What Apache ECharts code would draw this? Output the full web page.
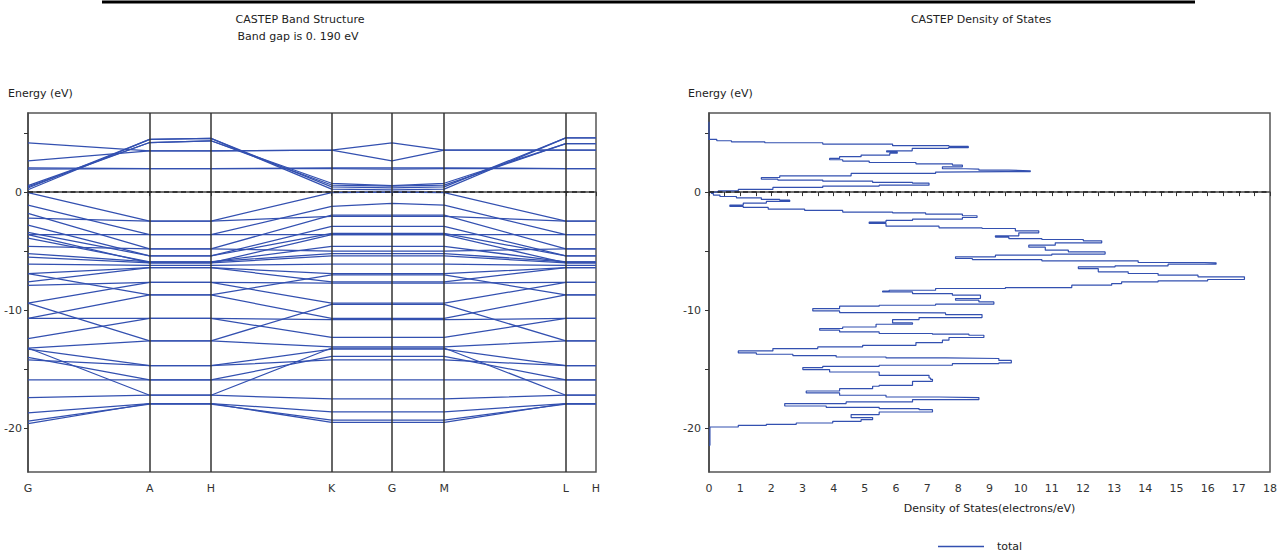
<!DOCTYPE html>
<html><head><meta charset="utf-8">
<script src="https://cdn.jsdelivr.net/npm/echarts@6/dist/echarts.min.js"></script>
<style>html,body{margin:0;padding:0;background:#fff}#c{width:1280px;height:558px}</style>
</head><body><div id="c"></div><script>
// k-path (high-symmetry points) and their path positions
const kLabels = ['G','A','H','K','G','M','L','H'];
const kPositions = [0,121,182,302,362,414,535,565];
// band energies (eV) at G, A, H, K, G, M, L, H
const conductionBands = [
  [0.20,4.47,4.55,0.25,0.19,0.25,4.60,4.60],
  [0.35,4.47,4.55,0.45,0.35,0.45,4.60,4.60],
  [0.45,4.20,4.35,0.60,0.50,0.60,4.10,4.10],
  [0.55,4.20,4.35,0.75,0.55,0.75,4.10,4.10],
  [4.18,3.50,3.50,3.55,4.18,3.55,3.55,3.55],
  [2.65,3.50,3.50,3.55,2.65,3.55,3.55,3.55],
  [1.95,2.00,2.00,2.00,1.95,2.00,2.00,2.00],
  [2.05,2.00,2.00,2.05,2.05,2.05,2.00,2.00]
];
const valenceBands = [
  [-0.05,-2.45,-2.45,-0.05,0.00,-0.05,-2.45,-2.45],
  [-1.10,-3.60,-3.60,-1.20,-0.95,-1.10,-3.60,-3.60],
  [-1.80,-4.80,-4.80,-1.95,-1.95,-1.95,-4.80,-4.80],
  [-2.20,-2.45,-2.45,-2.05,-2.05,-2.05,-2.45,-2.45],
  [-2.80,-5.40,-5.40,-2.90,-2.90,-2.90,-5.40,-5.40],
  [-3.40,-5.40,-5.40,-3.50,-3.50,-3.50,-5.40,-5.40],
  [-3.60,-3.60,-3.60,-3.60,-3.60,-3.60,-3.60,-3.60],
  [-3.90,-5.90,-5.90,-4.60,-4.60,-4.60,-5.90,-5.90],
  [-4.60,-4.80,-4.80,-5.00,-5.00,-5.00,-4.80,-4.80],
  [-5.20,-5.90,-5.90,-5.20,-5.20,-5.20,-5.90,-5.90],
  [-3.60,-6.00,-6.00,-3.60,-3.60,-3.60,-6.00,-6.00],
  [-5.50,-6.00,-6.00,-5.40,-5.40,-5.40,-6.00,-6.00],
  [-6.90,-6.40,-6.40,-6.90,-6.90,-6.90,-6.40,-6.40],
  [-7.60,-6.40,-6.40,-7.60,-7.60,-7.60,-6.40,-6.40],
  [-7.90,-7.65,-7.65,-7.70,-7.70,-7.70,-7.65,-7.65],
  [-9.40,-7.65,-7.65,-9.40,-9.40,-9.40,-7.65,-7.65],
  [-6.90,-8.70,-8.70,-7.00,-7.00,-7.00,-8.70,-8.70],
  [-10.70,-8.70,-8.70,-10.70,-10.70,-10.70,-8.70,-8.70],
  [-10.70,-10.70,-10.70,-10.80,-10.80,-10.80,-10.70,-10.70],
  [-12.40,-10.70,-10.70,-12.30,-12.30,-12.30,-10.70,-10.70],
  [-9.40,-12.60,-12.60,-9.50,-9.50,-9.50,-12.60,-12.60],
  [-13.20,-12.60,-12.60,-13.10,-13.10,-13.10,-12.60,-12.60],
  [-13.30,-14.70,-14.70,-13.30,-13.30,-13.30,-14.70,-14.70],
  [-14.20,-14.70,-14.70,-14.20,-14.20,-14.20,-14.70,-14.70],
  [-14.00,-15.90,-15.90,-13.90,-13.90,-13.90,-15.90,-15.90],
  [-15.90,-15.90,-15.90,-15.90,-15.90,-15.90,-15.90,-15.90],
  [-13.20,-17.20,-17.20,-13.20,-13.20,-13.20,-17.20,-17.20],
  [-17.40,-17.20,-17.20,-17.50,-17.50,-17.50,-17.20,-17.20],
  [-18.70,-17.90,-17.90,-18.60,-18.60,-18.60,-17.90,-17.90],
  [-19.60,-17.90,-17.90,-19.50,-19.50,-19.50,-17.90,-17.90],
  [-19.40,-17.95,-17.95,-19.30,-19.30,-19.30,-17.95,-17.95],
  [-6.10,-6.20,-6.20,-6.10,-6.10,-6.10,-6.20,-6.20]
];
// energy axis ticks
const energyTicks = [5,0,-5,-10,-15,-20];
const energyTickLabels = [0,-10,-20];
// total density of states (electrons/eV) vs energy (eV)
const dosEnergy = [5.96,4.69,4.46,4.35,4.26,4.18,4.07,3.93,3.87,3.76,3.70,3.50,3.40,3.30,3.14,3.00,2.85,2.74,2.63,2.51,2.40,2.29,2.14,1.98,1.95,1.86,1.81,1.74,1.70,1.58,1.38,1.24,1.10,1.02,0.93,0.82,0.76,0.59,0.51,0.40,0.23,0.11,0.00,-0.11,-0.25,-0.37,-0.48,-0.62,-0.68,-0.79,-0.93,-1.10,-1.21,-1.30,-1.44,-1.55,-1.69,-1.75,-1.86,-2.00,-2.15,-2.29,-2.40,-2.54,-2.65,-2.88,-3.02,-3.08,-3.28,-3.45,-3.70,-3.81,-3.93,-4.01,-4.12,-4.29,-4.49,-4.66,-4.92,-5.06,-5.25,-5.34,-5.48,-5.62,-5.71,-5.82,-5.96,-5.99,-6.10,-6.24,-6.33,-6.47,-6.75,-6.89,-7.03,-7.17,-7.40,-7.51,-7.60,-7.74,-7.88,-8.08,-8.16,-8.31,-8.39,-8.45,-8.59,-8.73,-9.01,-9.15,-9.30,-9.49,-9.58,-9.66,-9.86,-10.06,-10.20,-10.23,-10.37,-10.62,-10.79,-11.08,-11.19,-11.42,-11.55,-11.69,-11.84,-11.97,-12.03,-12.12,-12.31,-12.54,-12.74,-12.97,-13.11,-13.25,-13.45,-13.62,-13.73,-13.84,-13.96,-14.04,-14.09,-14.25,-14.46,-14.52,-14.66,-14.75,-14.86,-15.03,-15.23,-15.51,-15.74,-15.85,-16.02,-16.36,-16.44,-16.64,-16.84,-17.00,-17.20,-17.35,-17.40,-17.57,-17.77,-17.91,-18.11,-18.22,-18.33,-18.42,-18.62,-18.84,-19.09,-19.26,-19.41,-19.55,-19.66,-19.75,-19.89,-21.44];
const dosTotal = [0,0,0.25,0.72,1.79,3.65,5.89,7.70,8.32,7.68,6.52,5.70,6.04,5.80,4.88,4.19,3.87,4.29,5.14,6.64,7.81,8.13,7.49,8.23,8.66,9.62,10.31,9.51,7.27,4.56,2.27,1.68,2.21,3.65,5.25,6.53,7.06,5.46,3.65,2.05,0.94,0.30,0.08,0.14,0.35,0.88,1.68,2.27,2.59,1.84,1.10,0.67,1.10,1.90,3.07,4.29,5.89,6.95,8.13,8.60,8.13,6.53,5.68,5.14,5.68,7.38,8.76,9.83,10.58,9.94,9.19,9.62,10.68,12.01,12.60,11.11,10.26,10.79,11.53,12.71,11.00,9.19,7.91,8.45,10.68,13.77,15.90,16.27,14.73,13.03,11.85,12.49,13.45,14.41,15.69,17.18,16.00,14.41,13.24,12.92,11.64,9.51,7.27,5.78,5.57,6.53,7.81,8.71,7.91,8.66,9.14,7.27,5.46,4.19,3.33,4.19,6.00,7.59,8.76,6.74,5.89,6.53,5.36,4.29,3.55,4.19,5.46,7.17,8.34,8.82,7.70,7.49,6.64,4.93,3.49,2.05,0.94,1.52,2.69,4.08,5.68,7.59,9.30,9.70,9.30,7.81,5.46,3.65,3.01,3.87,5.46,7.06,7.11,7.17,6.53,5.46,5.25,4.19,3.12,4.19,5.68,7.38,8.66,6.53,4.40,2.43,3.76,5.46,6.74,7.17,5.46,4.56,5.25,4.88,3.97,2.80,1.84,0.94,0.03,0];

const FONT = 'DejaVu Sans';
const TXT = '#222';
const BAND_COLOR = '#3350b0';
const chart = echarts.init(document.getElementById('c'), null, {renderer:'svg'});

const bandSeries = conductionBands.concat(valenceBands).map((b, i) => ({
  type:'line', xAxisIndex:0, yAxisIndex:0, silent:true,
  symbol:'none', showSymbol:false,
  lineStyle:{width:1.25, color:BAND_COLOR},
  data:kPositions.map((k, j) => [k, b[j]]),
  z:2
}));
bandSeries[0].markLine = {
  silent:true, symbol:'none', label:{show:false}, animation:false,
  lineStyle:{color:'#333', width:1.5, type:'solid'},
  data:kPositions.slice(1, -1).map(k => ({xAxis:k}))
};
bandSeries[1].markLine = {
  silent:true, symbol:'none', label:{show:false}, animation:false,
  lineStyle:{color:'#222', width:1.5, type:[5,3.5]},
  data:[{yAxis:0}], z:5
};

const energyAxis = (idx, labelMargin) => ({
  type:'value', gridIndex:idx, min:-23.7, max:6.7,
  axisLine:{show:true, lineStyle:{color:'#444', width:1.5}},
  axisTick:{show:true, customValues:energyTicks, length:4, lineStyle:{color:'#333'}},
  axisLabel:{show:true, customValues:energyTickLabels, margin:labelMargin, color:'#333', fontSize:11, fontFamily:FONT},
  splitLine:{show:false}
});

const option = {
  animation:false,
  backgroundColor:'#fff',
  textStyle:{fontFamily:FONT},
  grid:[
    {left:28, top:113, width:568, height:359, show:true, borderColor:'#555', borderWidth:1.5, containLabel:false},
    {left:709, top:113, width:563, height:359, show:true, borderColor:'#555', borderWidth:1.5, containLabel:false}
  ],
  xAxis:[
    {type:'value', gridIndex:0, min:0, max:565,
     axisLine:{show:true, lineStyle:{color:'#444', width:1.5}},
     axisTick:{show:true, customValues:kPositions, length:4, lineStyle:{color:'#333'}},
     axisLabel:{show:true, customValues:kPositions, margin:11, color:'#333', fontSize:11, fontFamily:FONT,
       formatter:v => kLabels[kPositions.indexOf(v)]},
     splitLine:{show:false}},
    {type:'value', gridIndex:1, min:0, max:18, interval:1,
     name:'Density of States(electrons/eV)', nameLocation:'middle', nameGap:31,
     nameTextStyle:{color:TXT, fontSize:11, fontFamily:FONT},
     axisLine:{show:true, lineStyle:{color:'#444', width:1.5}},
     axisTick:{show:true, length:4, lineStyle:{color:'#333'}},
     minorTick:{show:true, splitNumber:2, length:4, lineStyle:{color:'#333'}},
     axisLabel:{margin:11, color:'#333', fontSize:11, fontFamily:FONT},
     splitLine:{show:false}, minorSplitLine:{show:false}}
  ],
  yAxis:[energyAxis(0, 6), energyAxis(1, 8)],
  legend:{
    data:['total'], left:933, top:537, icon:'rect', itemWidth:46, itemHeight:1.5,
    itemGap:10, padding:[4,5,4,5],
    textStyle:{color:TXT, fontSize:11, fontFamily:FONT, padding:[0,0,0,8]}
  },
  graphic:[
    {type:'line', shape:{x1:102, y1:2, x2:1195, y2:2}, style:{stroke:'#000', lineWidth:3}, silent:true},
    {type:'text', x:300, y:19, style:{text:'CASTEP Band Structure', align:'center', verticalAlign:'middle', fill:TXT, font:'11px "DejaVu Sans"'}},
    {type:'text', x:298, y:36, style:{text:'Band gap is 0. 190 eV', align:'center', verticalAlign:'middle', fill:TXT, font:'11px "DejaVu Sans"'}},
    {type:'text', x:981, y:19, style:{text:'CASTEP Density of States', align:'center', verticalAlign:'middle', fill:TXT, font:'11px "DejaVu Sans"'}},
    {type:'text', x:8, y:93, style:{text:'Energy (eV)', align:'left', verticalAlign:'middle', fill:TXT, font:'11px "DejaVu Sans"'}},
    {type:'text', x:688, y:93, style:{text:'Energy (eV)', align:'left', verticalAlign:'middle', fill:TXT, font:'11px "DejaVu Sans"'}}
  ],
  series:bandSeries.concat([{
    name:'total', type:'line', xAxisIndex:1, yAxisIndex:1, silent:true,
    symbol:'none', showSymbol:false, step:'start',
    lineStyle:{width:1.2, color:BAND_COLOR}, itemStyle:{color:BAND_COLOR},
    data:dosTotal.map((d, i) => [d, dosEnergy[i]]),
    markLine:{silent:true, symbol:'none', label:{show:false}, animation:false,
      lineStyle:{color:'#222', width:1.5, type:[5,3.5]}, data:[{yAxis:0}]}
  }])
};
chart.setOption(option);
</script></body></html>
